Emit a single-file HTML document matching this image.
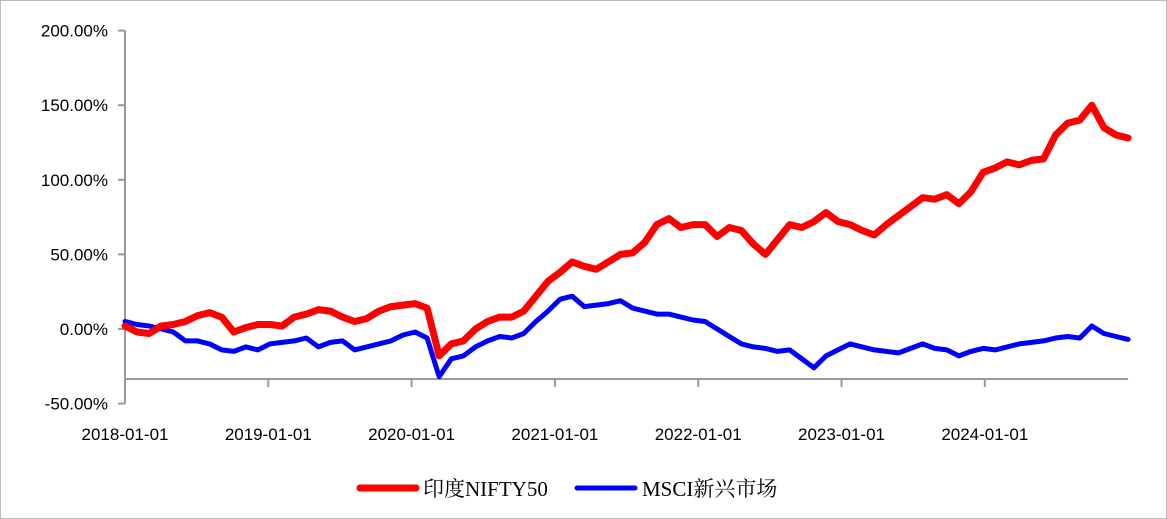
<!DOCTYPE html>
<html><head><meta charset="utf-8"><style>
html,body{margin:0;padding:0;background:#fff}
svg{display:block}
text{font-family:"Liberation Sans","Noto Sans CJK SC",sans-serif;fill:#000}
</style></head><body>
<svg width="1167" height="519" viewBox="0 0 1167 519">
<rect x="0.5" y="0.5" width="1166" height="518" fill="#fff" stroke="#bbb"/>
<g id="axes"></g>
<g id="series"></g>
<g>
<line x1="360" y1="488" x2="416" y2="488" stroke="#ff0000" stroke-width="7" stroke-linecap="round"/>
<text x="423" y="496" font-size="21" style="font-family:'Liberation Serif','Noto Serif CJK SC',serif">印度NIFTY50</text>
<line x1="577" y1="488" x2="635" y2="488" stroke="#0000ff" stroke-width="5" stroke-linecap="round"/>
<text x="642" y="496" font-size="21" style="font-family:'Liberation Serif','Noto Serif CJK SC',serif">MSCI新兴市场</text>
</g>
</svg>
<script>
const yTicks=[200,150,100,50,0,-50];
const xTickLabels=["2018-01-01","2019-01-01","2020-01-01","2021-01-01","2022-01-01","2023-01-01","2024-01-01"];
const niftyValues=[2,-2,-3,2,3,5,9,11,8,-2,1,3, 3,2,8,10,13,12,8,5,7,12,15,16, 17,14,-18,-10,-8,0,5,8,8,12,22,32, 38,45,42,40,45,50,51,58,70,74,68,70, 70,62,68,66,57,50,60,70,68,72,78,72, 70,66,63,70,76,82,88,87,90,84,92,105, 108,112,110,113,114,130,138,140,150,135,130,128];
const msciValues=[5,3,2,0,-2,-8,-8,-10,-14,-15,-12,-14, -10,-9,-8,-6,-12,-9,-8,-14,-12,-10,-8,-4, -2,-6,-32,-20,-18,-12,-8,-5,-6,-3,5,12, 20,22,15,16,17,19,14,12,10,10,8,6, 5,0,-5,-10,-12,-13,-15,-14,-20,-26,-18,-14, -10,-12,-14,-15,-16,-13,-10,-13,-14,-18,-15,-13, -14,-12,-10,-9,-8,-6,-5,-6,2,-3,-5,-7];
const NS="http://www.w3.org/2000/svg";
const x0=125,yearW=143.3;
function xScale(m){return x0+m*yearW/12;}
function yScale(v){return 329-v*74.6/50;}
const axes=document.getElementById('axes');
function mk(tag,attrs,parent){const e=document.createElementNS(NS,tag);for(const k in attrs)e.setAttribute(k,attrs[k]);parent.appendChild(e);return e;}
const yAxis=mk('line',{x1:x0,y1:yScale(200),x2:x0,y2:yScale(-50),stroke:'#999','stroke-width':2},axes);


yTicks.forEach(v=>{
 const t=mk('line',{x1:x0-7,y1:yScale(v),x2:x0,y2:yScale(v),stroke:'#999','stroke-width':2},axes);
 
 
 const l=mk('text',{x:x0-17,y:yScale(v)+6,'text-anchor':'end','font-size':17},axes);
 l.textContent=v.toFixed(2)+'%';
 
 
});
const xAxisY=379;
const xAxis=mk('line',{x1:x0,y1:xAxisY,x2:xScale(84),y2:xAxisY,stroke:'#999','stroke-width':2},axes);


xTickLabels.forEach((s,i)=>{
 const x=xScale(i*12);
 const t=mk('line',{x1:x,y1:xAxisY,x2:x,y2:xAxisY+8,stroke:'#999','stroke-width':2},axes);
 
 
 const l=mk('text',{x:x,y:440,'text-anchor':'middle','font-size':17},axes);
 l.textContent=s;
 
 
});
const sg=document.getElementById('series');
function draw(vals,color,w,name){
 const d=vals.map((v,i)=>(i?'L':'M')+xScale(i*84/(vals.length-1)).toFixed(1)+','+yScale(v).toFixed(1)).join(' ');
 const p=mk('path',{d:d,fill:'none',stroke:color,'stroke-width':w,'stroke-linejoin':'round','stroke-linecap':'round'},sg);
 
 
}
draw(msciValues,'#0000ff',5,'msci-em-line');
draw(niftyValues,'#ff0000',7,'nifty50-line');
</script>
</body></html>
